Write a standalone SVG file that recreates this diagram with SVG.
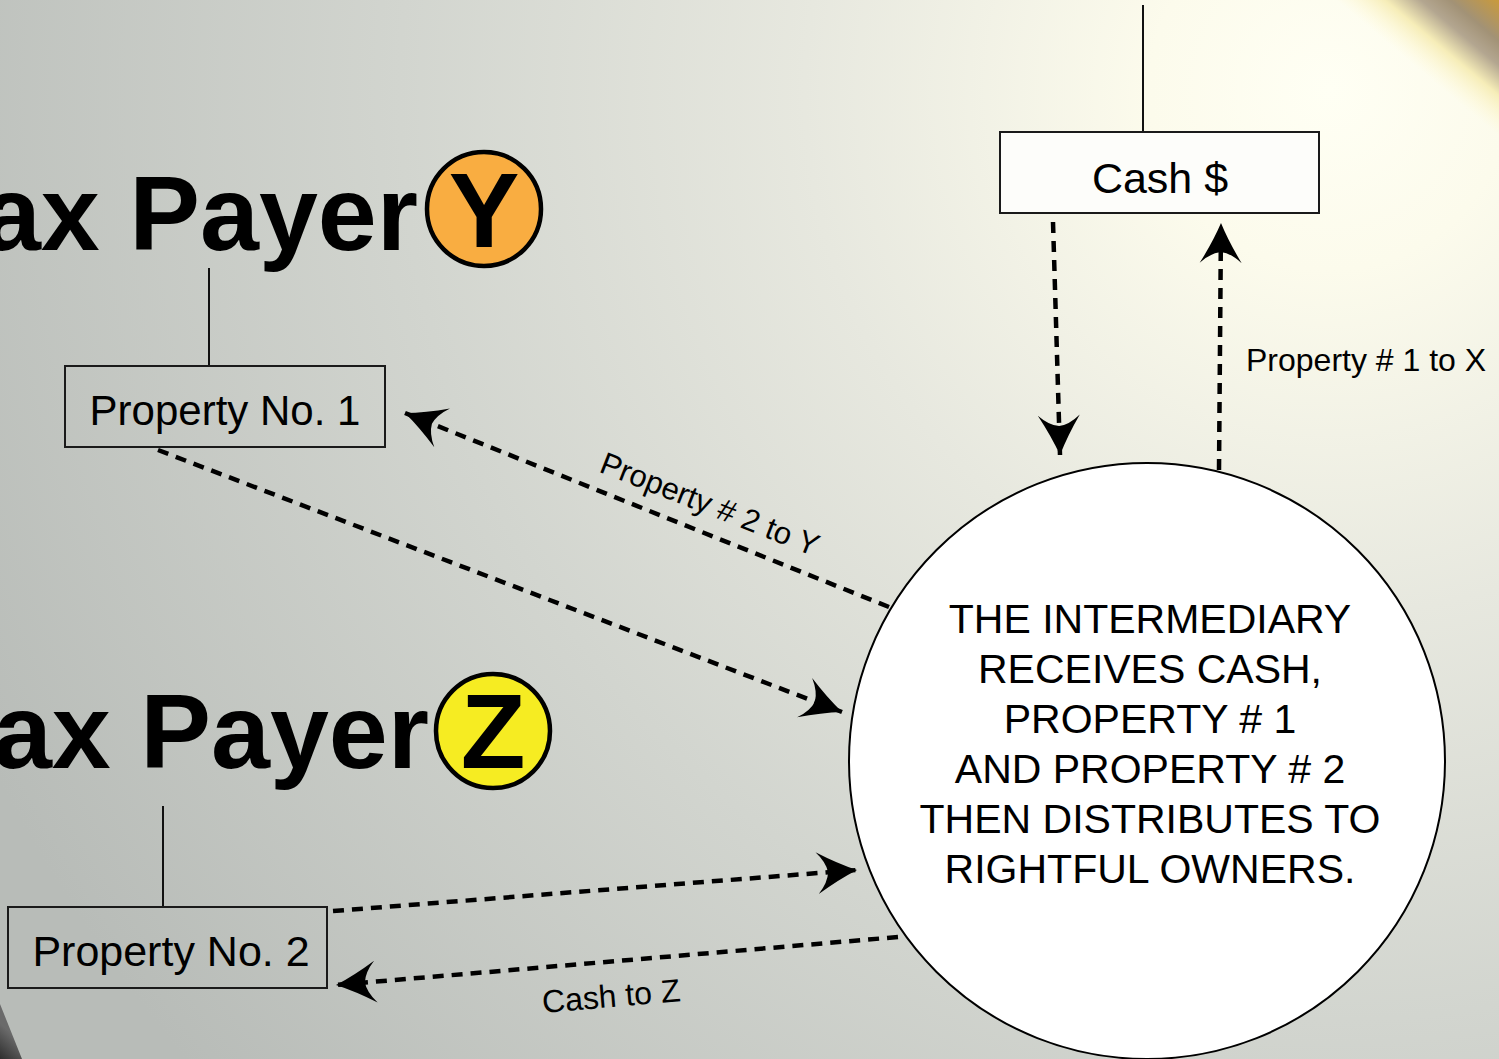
<svg xmlns="http://www.w3.org/2000/svg" width="1499" height="1059" viewBox="0 0 1499 1059">
<defs>
<radialGradient id="bg" gradientUnits="userSpaceOnUse" cx="1330" cy="90" r="1500">
<stop offset="0" stop-color="#fffff4"/>
<stop offset="0.12" stop-color="#fcfbec"/>
<stop offset="0.35" stop-color="#e7e8df"/>
<stop offset="0.62" stop-color="#d2d5cf"/>
<stop offset="1" stop-color="#b8bcb8"/>
</radialGradient>
<linearGradient id="corner" gradientUnits="userSpaceOnUse" x1="1415" y1="66" x2="1482" y2="-14">
<stop offset="0" stop-color="#fff8d0" stop-opacity="0"/>
<stop offset="0.3" stop-color="#f6edb8"/>
<stop offset="0.52" stop-color="#b3a690"/>
<stop offset="0.7" stop-color="#a29276"/>
<stop offset="1" stop-color="#c99a3c"/>
</linearGradient>
<linearGradient id="dark" gradientUnits="userSpaceOnUse" x1="0" y1="1059" x2="18" y2="1040">
<stop offset="0" stop-color="#2e2e2e"/>
<stop offset="1" stop-color="#6a6a6a"/>
</linearGradient>
<marker id="ah" viewBox="0 0 44 44" markerUnits="userSpaceOnUse" markerWidth="44" markerHeight="44" refX="41" refY="22" orient="auto">
<path d="M41,22 Q22,14 1,1 Q11,12 12,22 Q11,32 1,43 Q22,30 41,22 Z" fill="#000"/>
</marker>
<style>
.box{fill:none;stroke:#1a1a1a;stroke-width:2}
.stem{stroke:#111;stroke-width:2}
.lbl{font-family:"Liberation Sans",Arial,sans-serif;fill:#000}
.title{font-family:"Liberation Sans",Arial,sans-serif;font-weight:bold;fill:#000;font-size:106px}
.conn{fill:none;stroke:#000;stroke-width:4.5;stroke-dasharray:11 8;marker-end:url(#ah)}
</style>
</defs>
<rect width="1499" height="1059" fill="url(#bg)"/>
<polygon points="1330,0 1499,0 1499,150" fill="url(#corner)"/>
<polygon points="0,1004 22,1059 0,1059" fill="url(#dark)"/>

<g id="connectors">
<path class="conn" d="M1053,222 L1060,455"/>
<path class="conn" d="M1219,470 L1221,223"/>
<path class="conn" d="M889,607 L405,413"/>
<path class="conn" d="M158,450 L842,712"/>
<path class="conn" d="M333,911 L857,870"/>
<path class="conn" d="M898,937 L336,985"/>
<line class="stem" x1="1143" y1="5" x2="1143" y2="132"/>
<line class="stem" x1="209" y1="268" x2="209" y2="366"/>
<line class="stem" x1="163" y1="806" x2="163" y2="907"/>
<text class="lbl" font-size="32" x="1246" y="371">Property # 1 to X</text>
<text class="lbl" font-size="31" x="706" y="514" text-anchor="middle" transform="rotate(21.5 706 514)">Property # 2 to Y</text>
<text class="lbl" font-size="32" x="612" y="1007" text-anchor="middle" transform="rotate(-4.9 612 1007)">Cash to Z</text>
</g>

<g id="taxpayer-y">
<text class="title" x="-75" y="250">Tax Payer</text>
<circle cx="484" cy="209" r="57" fill="#f9ad41" stroke="#000" stroke-width="4.5"/>
<text class="title" x="484" y="247" text-anchor="middle">Y</text>
</g>

<g id="taxpayer-z">
<text class="title" x="-64" y="768">Tax Payer</text>
<circle cx="493" cy="731" r="57" fill="#f6ec22" stroke="#000" stroke-width="4.5"/>
<text class="title" x="493" y="768" text-anchor="middle">Z</text>
</g>

<g id="cash">
<rect x="1000" y="132" width="319" height="81" fill="#fdfdfa" stroke="#1a1a1a" stroke-width="2"/>
<text class="lbl" font-size="43" x="1160" y="193" text-anchor="middle">Cash $</text>
</g>

<g id="property1">
<rect class="box" x="65" y="366" width="320" height="81"/>
<text class="lbl" font-size="42" x="225" y="425" text-anchor="middle">Property No. 1</text>
</g>

<g id="property2">
<rect class="box" x="8" y="907" width="319" height="81"/>
<text class="lbl" font-size="43" x="171" y="966" text-anchor="middle">Property No. 2</text>
</g>

<g id="intermediary">
<circle cx="1147" cy="761" r="298" fill="#ffffff" stroke="#000" stroke-width="2"/>
<g class="lbl" font-size="41" text-anchor="middle">
<text x="1150" y="633">THE INTERMEDIARY</text>
<text x="1150" y="683">RECEIVES CASH,</text>
<text x="1150" y="733">PROPERTY # 1</text>
<text x="1150" y="783">AND PROPERTY # 2</text>
<text x="1150" y="833">THEN DISTRIBUTES TO</text>
<text x="1150" y="883">RIGHTFUL OWNERS.</text>
</g>
</g>
</svg>
